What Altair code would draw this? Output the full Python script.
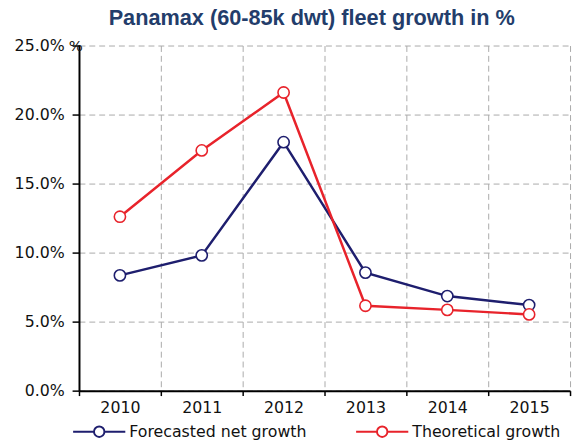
import altair as alt
import pandas as pd

years = ["2010", "2011", "2012", "2013", "2014", "2015"]
forecasted = [0.0835, 0.098, 0.180, 0.0855, 0.0685, 0.062]
theoretical = [0.126, 0.174, 0.216, 0.0615, 0.0585, 0.0552]
series_names = ["Forecasted net growth", "Theoretical growth"]
series_colors = ["#1E1E6E", "#E8232B"]
y_ticks = [0.0, 0.05, 0.10, 0.15, 0.20, 0.25]

rows = []
for i, yr in enumerate(years):
    rows.append({"year": yr, "series": series_names[0], "value": forecasted[i]})
    rows.append({"year": yr, "series": series_names[1], "value": theoretical[i]})
df = pd.DataFrame(rows)

LABEL_FONT = "DejaVu Sans"
legend_path = "M-1,0L-0.2,0M0.2,0L1,0M-0.2,0A0.2,0.2,0,1,1,0.2,0A0.2,0.2,0,1,1,-0.2,0Z"

x = alt.X(
    "year:O",
    sort=years,
    scale=alt.Scale(type="band", paddingInner=0, paddingOuter=0),
    axis=alt.Axis(
        title=None, labelAngle=0, tickBand="extent", grid=True,
        gridDash=[6, 4], gridColor="#AAAAAA", gridWidth=1,
        domainColor="#000000", domainWidth=2, tickColor="#000000",
        tickSize=5, tickWidth=1.5, labelPadding=4,
        labelFont=LABEL_FONT, labelFontSize=16, labelColor="#111111",
    ),
)
y = alt.Y(
    "value:Q",
    scale=alt.Scale(domain=[0, 0.25], nice=False),
    axis=alt.Axis(
        values=y_ticks, format=".1%", title="%", titleAngle=0,
        titleX=-11, titleY=0, titleAlign="left", titleBaseline="middle",
        titleFont=LABEL_FONT, titleFontSize=15, titleFontWeight="normal",
        titleColor="#111111",
        grid=True, gridDash=[6, 4], gridColor="#AAAAAA", gridWidth=1,
        domainColor="#000000", domainWidth=2, tickColor="#000000",
        tickSize=7, tickWidth=1.5, labelPadding=8,
        labelFont=LABEL_FONT, labelFontSize=16, labelColor="#111111",
    ),
)
color = alt.Color(
    "series:N",
    scale=alt.Scale(domain=series_names, range=series_colors),
    legend=alt.Legend(
        title=None, orient="none", direction="horizontal",
        legendX=-7, legendY=364, symbolType=legend_path, symbolSize=2800,
        symbolStrokeWidth=2, symbolFillColor="white", columnPadding=46,
        labelFont=LABEL_FONT, labelFontSize=16, labelColor="#111111",
        labelOffset=3, labelLimit=400,
    ),
)

base = alt.Chart(df).encode(x=x, y=y, color=color, detail="series:N")
lines = base.mark_line(strokeWidth=2.5)
points = base.mark_point(filled=False, fill="white", fillOpacity=1, size=130,
                         strokeWidth=1.6, opacity=1)

chart = alt.layer(lines, points).properties(
    width=498,
    height=350,
    autosize=alt.AutoSizeParams(type="none"),
    padding={"left": 72, "top": 35, "right": 3, "bottom": 48},
    title=alt.TitleParams(
        "Panamax (60-85k dwt) fleet growth in %",
        font="Liberation Sans", fontSize=22, fontWeight="bold",
        color="#233D6B", anchor="middle", frame="group", dx=-13, offset=8,
    ),
).configure_view(stroke=None)

chart.save("out.html", embed_options={"renderer": "svg", "actions": False})
